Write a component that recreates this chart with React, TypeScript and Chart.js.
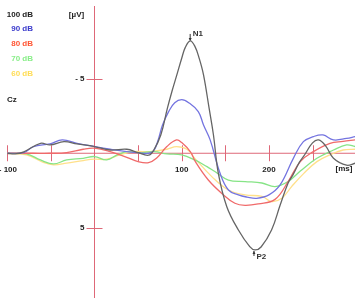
import React, { useEffect, useRef } from "react";
import { Chart, registerables } from "chart.js";

Chart.register(...registerables);

// Time (ms) and amplitude (µV, negative up) per stimulus level
const t100 = [-100, -91, -81, -62, -51, -35, -20, 0, 18, 37, 50, 62, 68, 76, 83.6, 89, 94.4, 100, 104, 109.7, 115, 120, 125, 131.4, 136.4, 142, 151.7, 165, 178, 184, 191, 203, 212.8, 222, 228, 235, 241, 250, 257, 265, 274, 289, 299];
const v100 = [0, 0.04, -0.1, -0.67, -0.56, -0.78, -0.63, -0.45, -0.22, -0.27, -0.04, 0.13, -0.22, -1.23, -3.03, -4.2, -5.27, -6.39, -7.1, -7.55, -7.2, -6.39, -5.27, -3.03, -1.23, 1.35, 3.59, 5.16, 6.28, 6.5, 6.3, 5.16, 3.5, 2.0, 1.4, 0.6, 0.1, -0.7, -0.9, -0.5, 0.33, 0.8, 0.67];

const t90 = [-100, -81, -70, -51, -37, -20, 0, 18, 37, 50, 62, 68, 73, 78, 85, 92, 100, 108, 119, 125, 132.6, 144, 153.6, 165, 175, 186, 200, 212.8, 228, 239.5, 251, 262, 274, 289, 299];
const v90 = [0, -0.04, -0.45, -0.63, -0.9, -0.67, -0.45, -0.27, -0.11, -0.04, 0, -0.18, -0.9, -1.9, -2.8, -3.4, -3.6, -3.4, -2.8, -1.9, -0.9, 1.35, 2.47, 2.8, 2.95, 3.03, 2.8, 2.13, 0.34, -0.78, -1.12, -1.23, -0.9, -1.0, -1.12];

const t80 = [-100, -81, -70, -51, -32, -13, 0, 18, 37, 50, 62, 71, 83, 94, 100, 110, 116, 130.5, 146, 161, 172.7, 188, 207, 222, 236, 251, 270, 285, 299];
const v80 = [0, 0, 0, 0, -0.04, -0.27, -0.34, -0.11, 0.27, 0.56, 0.63, 0.34, -0.45, -0.9, -0.72, -0.1, 0.6, 1.8, 2.7, 3.36, 3.5, 3.4, 3.1, 1.9, 0.56, -0.11, -0.67, -0.8, -0.9];

const t70 = [-100, -78, -62, -47, -32, -13, 0, 14, 26, 37, 52, 68, 83, 100, 115, 129, 138, 153.5, 172.7, 192, 207, 222, 236, 255, 274, 289, 299];
const v70 = [0, 0.04, 0.45, 0.72, 0.45, 0.34, 0.22, 0.45, 0.11, -0.11, -0.04, -0.11, 0.04, 0.11, 0.45, 0.9, 1.23, 1.8, 1.9, 2.0, 2.24, 1.9, 1.2, 0.34, -0.22, -0.56, -0.45];

const t60 = [-100, -78, -58, -47, -32, -13, 0, 14, 29, 45, 64, 83, 94, 106, 115, 134.5, 153.5, 172.7, 192, 203, 214.7, 226, 240, 255, 270, 285, 299];
const v60 = [0, 0.11, 0.63, 0.78, 0.67, 0.49, 0.4, 0.4, 0.11, -0.11, -0.11, -0.27, -0.45, -0.27, 0.34, 1.57, 2.47, 2.8, 2.9, 3.25, 3.03, 2.24, 1.35, 0.56, 0.11, -0.22, -0.27];

const seriesLabels = ["100 dB", "90 dB", "80 dB", "70 dB", "60 dB"];
const lineColors = ["#656565", "#7474e0", "#f06a6a", "#86e486", "#ffe08a"];
const textColors = ["#222222", "#3a3acc", "#ff5533", "#88ee88", "#ffdd55"];

const xTicks = [-100, -50, 50, 100, 150, 200, 250];
const xTickLabels: Record<number, string> = { 100: "100", 200: "200" };
const yTicks = [-5, 5];
const yTickLabels: Record<number, string> = { [-5]: "- 5", 5: "5" };

const n1 = { x: 109.7, y: -7.55 };
const p2 = { x: 184, y: 6.5 };

const AXIS = "#de6878";
const FONT = "bold 8px 'Liberation Sans', Arial, sans-serif";

function pts(t: number[], v: number[]) {
  return t.map((x, i) => ({ x, y: v[i] }));
}

const overlay = {
  id: "erpOverlay",
  beforeDatasetsDraw(chart: any) {
    const { ctx, scales } = chart;
    const xs = scales.x;
    const ys = scales.y;
    const x0 = xs.getPixelForValue(0);
    const y0 = ys.getPixelForValue(0);
    ctx.save();
    ctx.strokeStyle = AXIS;
    ctx.lineWidth = 1;
    ctx.beginPath();
    ctx.moveTo(xs.getPixelForValue(-100), y0);
    ctx.lineTo(chart.width, y0);
    ctx.moveTo(x0, ys.getPixelForValue(-9.9));
    ctx.lineTo(x0, chart.height);
    for (const t of xTicks) {
      const px = Math.round(xs.getPixelForValue(t)) + 0.5;
      ctx.moveTo(px, y0 - 8);
      ctx.lineTo(px, y0 + 8);
    }
    for (const v of yTicks) {
      const py = Math.round(ys.getPixelForValue(v)) + 0.5;
      ctx.moveTo(x0 - 8, py);
      ctx.lineTo(x0 + 8, py);
    }
    ctx.stroke();
    ctx.restore();
  },
  afterDatasetsDraw(chart: any) {
    const { ctx, scales } = chart;
    const xs = scales.x;
    const ys = scales.y;
    const x0 = xs.getPixelForValue(0);
    const y0 = ys.getPixelForValue(0);
    ctx.save();
    ctx.font = FONT;
    ctx.fillStyle = "#222";
    ctx.textBaseline = "middle";
    ctx.textAlign = "center";
    for (const t of xTicks) {
      const l = xTickLabels[t];
      if (l) ctx.fillText(l, xs.getPixelForValue(t), y0 + 17);
    }
    ctx.textAlign = "right";
    ctx.fillText("- 100", 17, y0 + 17);
    ctx.textAlign = "center";
    ctx.fillText("[ms]", 344, y0 + 16);
    ctx.textAlign = "right";
    for (const v of yTicks) {
      ctx.fillText(yTickLabels[v], x0 - 10, ys.getPixelForValue(v));
    }
    ctx.textAlign = "center";
    ctx.fillText("[µV]", x0 - 18, 15);
    // legend
    ctx.textAlign = "right";
    seriesLabels.forEach((s, i) => {
      ctx.fillStyle = textColors[i];
      ctx.fillText(s, 33, 14.5 + i * 14.7);
    });
    ctx.fillStyle = "#222";
    ctx.textAlign = "left";
    ctx.fillText("Cz", 7, 99.5);
    // peak markers
    const nx = xs.getPixelForValue(n1.x);
    const ny = ys.getPixelForValue(n1.y);
    const px = xs.getPixelForValue(p2.x);
    const py = ys.getPixelForValue(p2.y);
    ctx.strokeStyle = "#333";
    ctx.lineWidth = 1;
    ctx.beginPath();
    ctx.moveTo(nx, ny - 7);
    ctx.lineTo(nx, ny - 1);
    ctx.moveTo(px - 1, py + 1);
    ctx.lineTo(px - 1, py + 6);
    ctx.stroke();
    ctx.fillStyle = "#333";
    ctx.beginPath();
    ctx.moveTo(nx - 1.5, ny - 3);
    ctx.lineTo(nx + 1.5, ny - 3);
    ctx.lineTo(nx, ny);
    ctx.closePath();
    ctx.fill();
    ctx.beginPath();
    ctx.moveTo(px - 2.5, py + 4);
    ctx.lineTo(px + 0.5, py + 4);
    ctx.lineTo(px - 1, py + 1);
    ctx.closePath();
    ctx.fill();
    ctx.textAlign = "left";
    ctx.fillText("N1", nx + 2.5, ny - 7);
    ctx.fillText("P2", px + 1.5, py + 7);
    ctx.restore();
  },
};

export default function App() {
  const ref = useRef<HTMLCanvasElement | null>(null);
  useEffect(() => {
    if (!ref.current) return;
    const series = [pts(t100, v100), pts(t90, v90), pts(t80, v80), pts(t70, v70), pts(t60, v60)];
    const chart = new Chart(ref.current, {
      type: "line",
      data: {
        datasets: series.map((d, i) => ({
          label: seriesLabels[i],
          data: d,
          borderColor: lineColors[i],
          borderWidth: 1.3,
          pointRadius: 0,
          fill: false,
          tension: 0.4,
        })),
      },
      options: {
        animation: false,
        responsive: false,
        maintainAspectRatio: false,
        events: [],
        layout: { padding: { left: 7.3, right: 0, top: 6, bottom: 0 } },
        plugins: { legend: { display: false }, tooltip: { enabled: false } },
        scales: {
          x: { type: "linear", display: false, min: -100, max: 298.7 },
          y: { type: "linear", display: false, reverse: true, min: -9.9, max: 9.73 },
        },
      },
      plugins: [overlay],
    });
    return () => chart.destroy();
  }, []);
  return (
    <div style={{ position: "fixed", left: 0, top: 0, width: 355, height: 298, background: "#fff" }}>
      <canvas ref={ref} width={355} height={298} style={{ width: 355, height: 298, display: "block" }} />
    </div>
  );
}
